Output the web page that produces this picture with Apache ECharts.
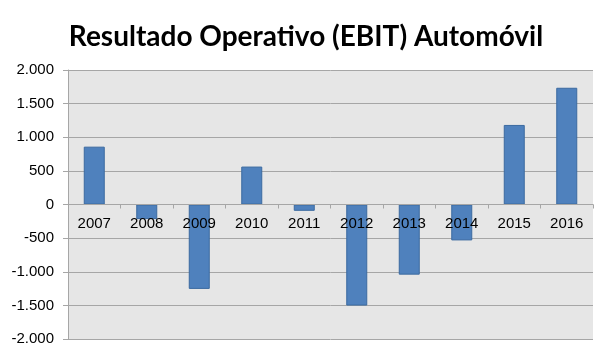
<!DOCTYPE html>
<html><head><meta charset="utf-8">
<script src="https://cdn.jsdelivr.net/npm/echarts@6/dist/echarts.min.js"></script>
<style>html,body{margin:0;padding:0;background:#fff}#c{width:612px;height:358px}</style>
</head><body><div id="c"></div>
<script>
const years = ['2007','2008','2009','2010','2011','2012','2013','2014','2015','2016'];
const ebit = [860, -217, -1255, 564, -94, -1503, -1043, -534, 1183, 1736];
const title = 'Resultado Operativo (EBIT) Automóvil';
const yMin = -2000, yMax = 2000, yStep = 500;

function fmt(v){
  const s = Math.abs(v).toString().replace(/\B(?=(\d{3})+(?!\d))/g, '.');
  return (v < 0 ? '-' : '') + s;
}
const gridTop = 70, gridBottom = 19, H = 358;
const plotH = H - gridTop - gridBottom;
const zeroOffset = -plotH * (0 - yMin) / (yMax - yMin);
const chart = echarts.init(document.getElementById('c'));
chart.setOption({
  animation: false,
  title: {text: title, left: 'center', top: 18,
    textStyle: {fontFamily: 'Lato', fontWeight: 'bold', fontSize: 28, color: '#000'}},
  grid: {left: 68, right: 19, top: gridTop, bottom: gridBottom, show: true, backgroundColor: '#e6e6e6', borderWidth: 0},
  xAxis: {type: 'category', data: years, position: 'bottom', offset: zeroOffset, z: 5,
    axisLine: {onZero: false, lineStyle: {color: '#a6a6a6', width: 1}},
    axisTick: {show: true, alignWithLabel: false, length: 4, lineStyle: {color: '#a6a6a6'}},
    axisLabel: {color: '#000', fontFamily: 'Liberation Sans', fontSize: 15, margin: 12}},
  yAxis: {type: 'value', min: yMin, max: yMax, interval: yStep,
    axisLine: {show: true, onZero: false, lineStyle: {color: '#a6a6a6'}},
    axisTick: {show: true, length: 5, lineStyle: {color: '#a6a6a6'}},
    splitLine: {lineStyle: {color: '#a6a6a6', width: 1}},
    axisLabel: {color: '#000', fontFamily: 'Liberation Sans', fontSize: 15, margin: 14, formatter: fmt}},
  series: [{type: 'bar', data: ebit, barWidth: 21, z: 2,
    itemStyle: {color: '#4f81bd', borderColor: '#3b6aa0', borderWidth: 1}}]
});
</script></body></html>
